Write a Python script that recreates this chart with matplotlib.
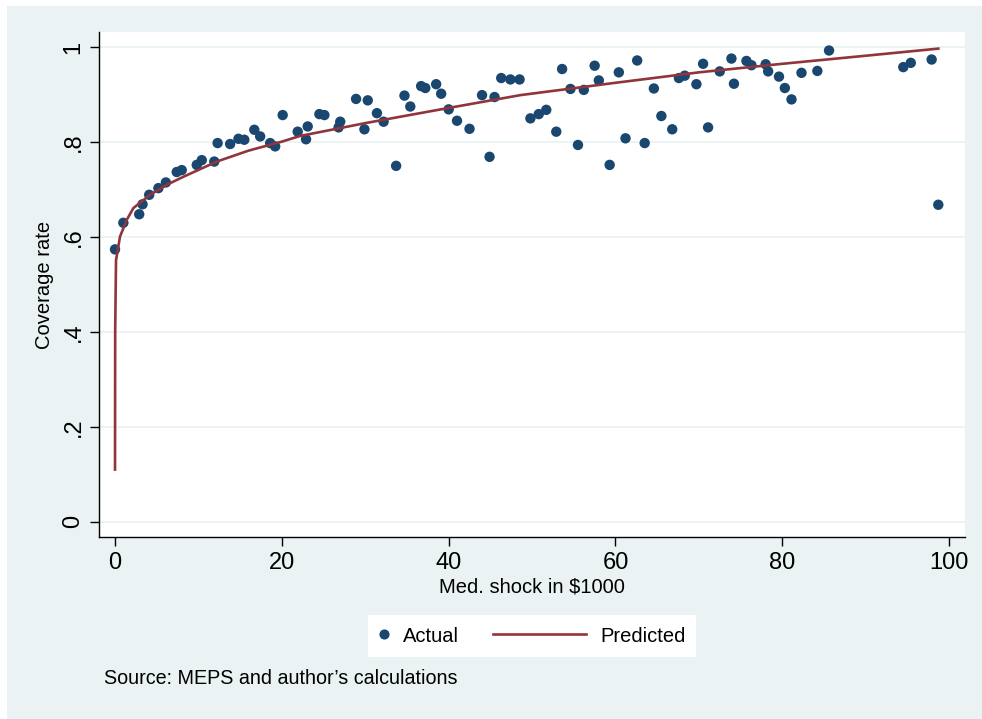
import matplotlib
matplotlib.use("Agg")
import matplotlib.pyplot as plt
from matplotlib.patches import Rectangle
from matplotlib.lines import Line2D
from matplotlib.legend_handler import HandlerBase

# Medical shock (in $1000) and observed coverage rate
shock = [0.0, 1.0, 2.9, 3.3, 4.1, 5.2, 6.1, 7.4, 8.0, 9.8, 10.4, 11.9, 12.3, 13.8,
         14.8, 15.5, 16.7, 17.4, 18.6, 19.2, 20.1, 21.9, 22.9, 23.1, 24.5, 25.1,
         26.8, 27.0, 28.9, 29.9, 30.3, 31.4, 32.2, 33.7, 34.7, 35.4, 36.7, 37.2,
         38.5, 39.1, 40.0, 41.0, 42.5, 44.0, 44.9, 45.5, 46.3, 47.4, 48.5, 49.8,
         50.8, 51.7, 52.9, 53.6, 54.6, 55.5, 56.2, 57.5, 58.0, 59.3, 60.4, 61.2,
         62.6, 63.5, 64.6, 65.5, 66.8, 67.6, 68.3, 69.7, 70.5, 71.1, 72.5, 73.9,
         74.2, 75.7, 76.3, 78.0, 78.3, 79.6, 80.3, 81.1, 82.3, 84.2, 85.6, 94.5,
         95.4, 97.9, 98.7]
coverage = [0.574, 0.630, 0.648, 0.669, 0.689, 0.703, 0.715, 0.737, 0.741, 0.752,
            0.762, 0.759, 0.798, 0.796, 0.807, 0.805, 0.826, 0.812, 0.798, 0.791,
            0.857, 0.822, 0.806, 0.833, 0.859, 0.857, 0.831, 0.843, 0.891, 0.827,
            0.888, 0.861, 0.843, 0.750, 0.898, 0.875, 0.918, 0.914, 0.922, 0.902,
            0.869, 0.845, 0.828, 0.899, 0.769, 0.895, 0.935, 0.932, 0.932, 0.850,
            0.859, 0.868, 0.822, 0.954, 0.912, 0.794, 0.910, 0.961, 0.930, 0.752,
            0.947, 0.808, 0.972, 0.798, 0.913, 0.855, 0.827, 0.935, 0.940, 0.922,
            0.965, 0.831, 0.949, 0.976, 0.923, 0.971, 0.962, 0.964, 0.949, 0.938,
            0.914, 0.890, 0.946, 0.950, 0.993, 0.958, 0.967, 0.974, 0.668]

# Fitted coverage curve
pred_x = [0.0, 0.02, 0.12, 0.6, 1.4, 2.2, 4.2, 6.2, 8.2, 10.2, 12.2, 16.0, 20.0,
          22.2, 30.0, 40.0, 48.6, 60.0, 70.0, 80.0, 90.0, 98.7]
pred_y = [0.11, 0.40, 0.551, 0.601, 0.636, 0.661, 0.689, 0.710, 0.727, 0.743,
          0.759, 0.782, 0.801, 0.813, 0.840, 0.872, 0.899, 0.925, 0.947, 0.965,
          0.982, 0.997]

x_ticks = [0, 20, 40, 60, 80, 100]
y_ticks = [0, 0.2, 0.4, 0.6, 0.8, 1.0]
y_tick_labels = ["0", ".2", ".4", ".6", ".8", "1"]

BG = "#EAF2F3"
NAVY = "#1A476F"
MAROON = "#90353B"

plt.rcParams["font.family"] = ["Liberation Sans", "DejaVu Sans"]

W, H = 982, 719
fig = plt.figure(figsize=(W / 100, H / 100), dpi=100)
fig.patch.set_facecolor("white")
fig.patches.append(Rectangle((7 / W, 0), 1 - 7 / W, (H - 6) / H,
                             transform=fig.transFigure, facecolor=BG,
                             edgecolor="none", zorder=-10))

ax = fig.add_axes([99 / W, 1 - 537 / H, (965 - 99) / W, (537 - 32) / H])
ax.set_facecolor("white")

ax.scatter(shock, coverage, s=56, color=NAVY, edgecolors="none", zorder=3,
           label="Actual")
ax.plot(pred_x, pred_y, color=MAROON, lw=1.9, zorder=4, label="Predicted")

ax.set_xlim(-1.92, 101.9)
ax.set_ylim(-0.032, 1.032)
ax.set_xticks(x_ticks)
ax.set_yticks(y_ticks)
ax.set_yticklabels(y_tick_labels, rotation=90, va="center", ha="right")

ax.grid(axis="y", color=BG, lw=1.3, zorder=1)
ax.grid(axis="x", visible=False)
for side in ("top", "right"):
    ax.spines[side].set_visible(False)
for side in ("left", "bottom"):
    ax.spines[side].set_color("black")
    ax.spines[side].set_linewidth(1.0)

ax.tick_params(axis="both", direction="out", length=6.5, width=1.0,
               color="black", labelsize=17)
ax.tick_params(axis="x", pad=4)
ax.tick_params(axis="y", pad=4)

ax.set_xlabel("Med. shock in $1000", fontsize=14.5, va="center")
ax.xaxis.set_label_coords(0.5, (537 - 587) / 505)
ax.set_ylabel("Coverage rate", fontsize=14.5, va="center")
ax.yaxis.set_label_coords((45 - 99) / 866, 0.5)


class LongLineHandler(HandlerBase):
    """Draws a legend line that extends to the left of its handle box."""
    def __init__(self, length_pts, **kw):
        super().__init__(**kw)
        self.length_pts = length_pts

    def create_artists(self, legend, orig_handle, xdescent, ydescent, width,
                       height, fontsize, trans):
        y = height / 2 - ydescent
        x1 = width - xdescent
        x0 = x1 - self.length_pts
        ln = Line2D([x0, x1], [y, y], color=orig_handle.get_color(),
                    lw=orig_handle.get_linewidth())
        ln.set_transform(trans)
        return [ln]


class DotHandler(HandlerBase):
    def create_artists(self, legend, orig_handle, xdescent, ydescent, width,
                       height, fontsize, trans):
        m = Line2D([width / 2 - xdescent], [height / 2 - ydescent], marker="o",
                   ls="none", color=NAVY, markersize=7.3, markeredgewidth=0)
        m.set_transform(trans)
        return [m]


handles, labels = ax.get_legend_handles_labels()
fs_leg = 14.5
leg = fig.legend(handles, labels, loc="center", ncol=2,
                 bbox_to_anchor=(532 / W, 1 - 636 / H),
                 fontsize=fs_leg, frameon=True, fancybox=False, framealpha=1,
                 handlelength=0.5, handletextpad=0.7, columnspacing=5.8,
                 borderpad=0.55, borderaxespad=0,
                 handler_map={handles[0]: DotHandler(),
                              handles[1]: LongLineHandler(93 * 0.72)})
leg.get_frame().set_facecolor("white")
leg.get_frame().set_edgecolor("none")
leg.get_frame().set_linewidth(0)

fig.text(104 / W, 1 - 679 / H, "Source: MEPS and author\u2019s calculations",
         fontsize=14.2, va="center", ha="left")

fig.savefig("out.png", dpi=100, facecolor=fig.get_facecolor())
